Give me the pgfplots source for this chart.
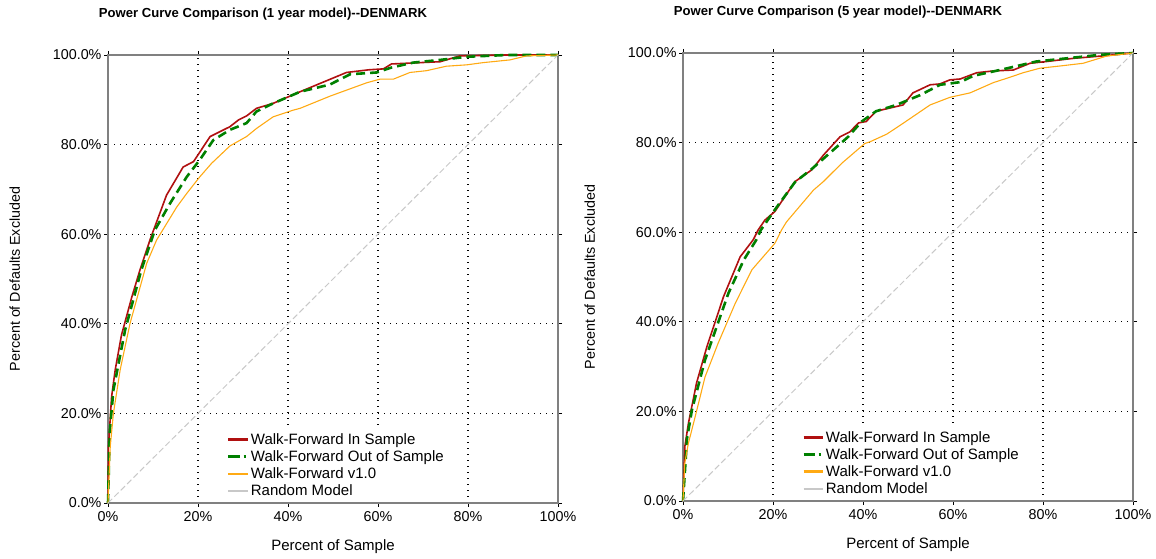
\documentclass[border=0pt]{standalone}
\usepackage{pgfplots}
\pgfplotsset{compat=1.18}
\usepackage{fontspec}
\setmainfont{Liberation Sans}
\definecolor{wfred}{RGB}{176,16,16}
\definecolor{wfgreen}{RGB}{0,128,0}
\definecolor{wforange}{RGB}{255,170,20}
\definecolor{rndgray}{RGB}{200,200,200}
\definecolor{axgray}{RGB}{128,128,128}
\tikzset{
  redl/.style={draw=wfred, color=wfred, line width=1.6pt},
  greenl/.style={draw=wfgreen, color=wfgreen, line width=2.6pt, dash pattern=on 9pt off 5pt},
  orangel/.style={draw=wforange, color=wforange, line width=1.1pt},
  grayl/.style={draw=rndgray, color=rndgray, line width=1.0pt, dash pattern=on 6pt off 3pt},
}
\pgfplotsset{
  pcstyle/.style={
    scale only axis, width=450pt, height=448pt,
    xmin=0, xmax=100, ymin=0, ymax=100,
    xtick={0,20,40,60,80,100},
    xticklabels={0\%,20\%,40\%,60\%,80\%,100\%},
    ytick={0,20,40,60,80,100},
    yticklabels={0.0\%,20.0\%,40.0\%,60.0\%,80.0\%,100.0\%},
    tick align=outside, major tick length=4pt,
    tick style={black, line width=0.6pt},
    axis line style={axgray, line width=1.6pt},
    grid=major,
    major grid style={black, line width=1.1pt, dash pattern=on 1.1pt off 4.9pt},
    ticklabel style={font=\fontsize{14.3}{16}\selectfont},
    xticklabel style={yshift=-1pt},
    yticklabel style={xshift=1pt},
    xlabel={Percent of Sample},
    ylabel={Percent of Defaults Excluded},
    xlabel style={font=\fontsize{15}{17}\selectfont, at={(axis description cs:0.5,-0.098)}, anchor=center},
    ylabel style={font=\fontsize{14.3}{16}\selectfont, at={(axis description cs:-0.207,0.5)}, anchor=center},
    title style={font=\bfseries\fontsize{13.1}{15}\selectfont, at={(axis description cs:0.5,1.077)}, anchor=center, xshift=-70pt},
    legend style={draw=none, fill=white, at={(axis description cs:0.262,0.163)}, anchor=north west,
      font=\fontsize{15}{17}\selectfont, row sep=0.7pt, inner sep=1pt},
    legend cell align=left,
    clip=false,
  },
}
\newcommand{\legendrows}{%
  \addlegendimage{legend image code/.code={\draw[wfred, line width=2.3pt] (0pt,0pt) -- (19pt,0pt);}}\addlegendentry{Walk-Forward In Sample}
  \addlegendimage{legend image code/.code={\draw[wfgreen, line width=2.8pt, dash pattern=on 11pt off 4pt on 2pt off 5pt] (0pt,0pt) -- (19pt,0pt);}}\addlegendentry{Walk-Forward Out of Sample}
  \addlegendimage{legend image code/.code={\draw[wforange, line width=2pt] (0pt,0pt) -- (19pt,0pt);}}\addlegendentry{Walk-Forward v1.0}
  \addlegendimage{legend image code/.code={\draw[rndgray, line width=2pt] (0pt,0pt) -- (19pt,0pt);}}\addlegendentry{Random Model}
}
\begin{document}
\begin{tikzpicture}
\begin{axis}[pcstyle, at={(108pt,56pt)}, anchor=south west,
  title={Power Curve Comparison (1 year model){-}{-}DENMARK}]
\legendrows
\addplot[redl, forget plot] coordinates {(0,0) (0.1,12.6) (0.8,23.7) (1.6,29.7) (3,37.5) (5.3,46) (7.1,52) (9.5,59.2) (13,68.7) (16.7,75) (19,76.2) (22.7,81.8) (27.1,84) (29,85.5) (30.8,86.4) (33,88.1) (36.7,89.2) (42.7,91.8) (47,93.6) (53,96.1) (58,96.7) (61.2,96.9) (63,98) (73.8,98.5) (78.2,99.8) (88.6,100) (100,100)};
\addplot[greenl, forget plot] coordinates {(0,0) (0.4,16) (1.2,25.2) (3.8,38.6) (7.4,52) (10.4,60.9) (13.8,66.9) (17.5,72.8) (20.4,76.6) (23.4,81) (27.1,83.3) (30.8,84.8) (33,87.4) (36.7,89.2) (42.7,91.8) (49.3,93.4) (53.8,95.7) (59.7,96.1) (63,97.2) (67.8,98.3) (73.8,98.9) (79.7,99.6) (88.6,100) (100,100)};
\addplot[orangel, forget plot] coordinates {(0,0) (0.5,12.6) (1.2,20) (2.7,29.7) (4.9,40.1) (8.6,53.5) (10.8,58.7) (15.3,66.1) (17.5,69.1) (20.4,72.8) (23,75.8) (27.1,79.7) (30.8,81.8) (33,83.6) (36.7,86.2) (41.2,87.7) (42.7,88.1) (49.3,90.8) (57.5,93.8) (60.4,94.6) (63.4,94.6) (67.1,96.1) (70.8,96.5) (75.2,97.5) (79.7,97.8) (83.4,98.3) (89.3,98.9) (93,99.8) (100,100)};
\addplot[grayl, forget plot] coordinates {(0,0) (100,100)};
\end{axis}
\begin{axis}[pcstyle, at={(683pt,58pt)}, anchor=south west,
  title={Power Curve Comparison (5 year model){-}{-}DENMARK}]
\legendrows
\addplot[redl, forget plot] coordinates {(0,0) (0.4,12.1) (1.2,17.3) (3,26.3) (5.3,34.4) (9,45.6) (12.7,54.5) (15.6,58.3) (16.7,60.5) (18.2,62.7) (20.4,64.6) (24.9,71.3) (28.6,73.9) (31.2,77.2) (34.9,81.3) (37.1,82.4) (39,84.4) (40.7,84.7) (42.9,87) (48.9,88.4) (51.1,91.1) (54.9,92.9) (57.1,93.1) (59.3,94) (61.6,94.2) (65.3,95.6) (69,96) (73.4,96.2) (77.1,97.7) (80.8,98.1) (86.7,98.8) (92.7,99.3) (100,100)};
\addplot[greenl, forget plot] coordinates {(0,0) (0.9,14) (2,20.4) (4.9,31.5) (10.1,46.4) (13.5,53.8) (16.3,58.3) (17.3,60.5) (20.4,65) (24.9,71.2) (28.6,74.1) (33,78) (36.7,81.3) (39.7,84.7) (42.9,87) (47.4,88.4) (52.7,90.6) (57.1,92.9) (61.6,93.5) (64.5,94.9) (70.4,96.2) (73.4,96.9) (78.5,98.1) (85.2,98.8) (92.7,99.6) (100,100)};
\addplot[orangel, forget plot] coordinates {(0,0) (0.4,8.5) (1.2,12.9) (2.7,18.8) (4.9,27.7) (7.8,35.2) (11.6,44.1) (15.3,51.6) (20.4,57.5) (21.9,60.5) (23,62.3) (29,69.4) (31.2,71.3) (35.3,75.4) (40.4,79.8) (41.6,80.2) (45.3,81.9) (48.9,84.3) (54.9,88.4) (59.3,90.1) (63.8,91.1) (69,93.4) (72.7,94.6) (75.6,95.6) (79.3,96.6) (83.8,97.1) (88.9,97.7) (94.1,99.3) (100,100)};
\addplot[grayl, forget plot] coordinates {(0,0) (100,100)};
\end{axis}
\pgfresetboundingbox
\useasboundingbox (0,0) rectangle (1156pt,559pt);
\end{tikzpicture}
\end{document}
